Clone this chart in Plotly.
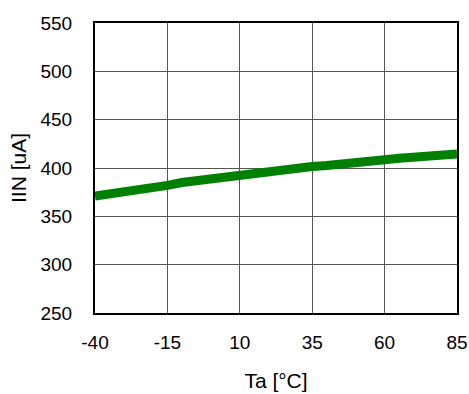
import plotly.graph_objects as go

temps = [-40, -35, -30, -25, -20, -15, -10, -5, 0, 5, 10, 15, 20, 25, 30, 35,
         40, 45, 50, 55, 60, 65, 70, 75, 80, 85]
iin = [371, 373, 375, 377, 378, 382, 385, 387, 389, 391, 393, 394, 395.5, 397.5,
       400, 401.5, 402.5, 403.5, 405, 407.5, 408.5, 410, 411, 413, 414, 414.5]
x_ticks = [-40, -15, 10, 35, 60, 85]
x_tick_labels = ["-40", "-15", "10", "35", "60", "85"]
y_ticks = [250, 300, 350, 400, 450, 500, 550]

fig = go.Figure()
fig.add_trace(go.Scatter(x=temps, y=iin, mode="lines",
                         line=dict(color="#008000", width=9), showlegend=False))

font = "Liberation Sans, Arial, sans-serif"
fig.update_layout(
    width=469, height=394,
    margin=dict(l=95, r=12, t=23, b=81),
    paper_bgcolor="white", plot_bgcolor="white",
    font=dict(family=font, color="black", size=19),
    xaxis=dict(range=[-40, 85], tickvals=x_ticks, ticktext=x_tick_labels,
               ticks="", ticklabelstandoff=11, automargin=False,
               showgrid=True, gridcolor="#555555", gridwidth=1,
               showline=True, linecolor="black", linewidth=2, mirror=True,
               zeroline=False, tickfont=dict(size=19),
               title=dict(text="Ta [°C]", font=dict(size=21), standoff=22)),
    yaxis=dict(range=[250, 550], tickvals=y_ticks, ticks="", ticklabelstandoff=17,
               automargin=False,
               showgrid=True, gridcolor="#555555", gridwidth=1,
               showline=True, linecolor="black", linewidth=2, mirror=True,
               zeroline=False, tickfont=dict(size=19),
               title=dict(text="IIN [uA]", font=dict(size=21), standoff=8)),
)
fig.write_html("out.html")
